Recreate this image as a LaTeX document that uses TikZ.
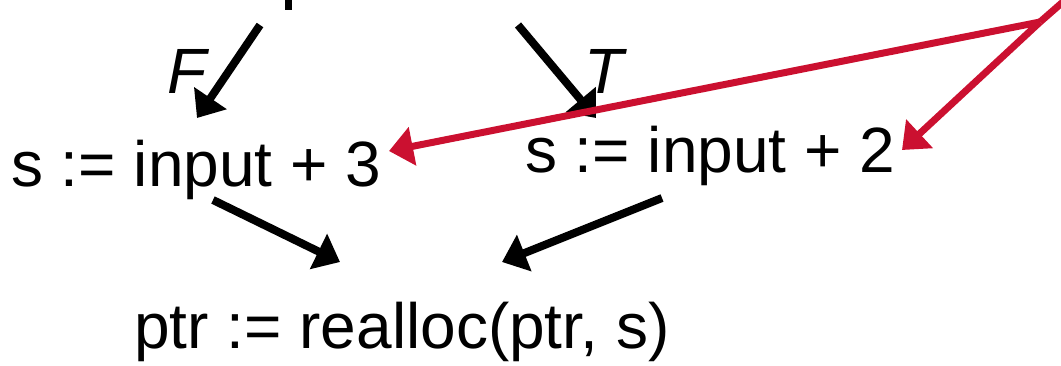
\documentclass[tikz,border=0pt]{standalone}
\usepackage{fontspec}
\setmainfont{Liberation Sans}
\usetikzlibrary{arrows.meta}
\definecolor{hired}{RGB}{203,16,48}
\begin{document}
\begin{tikzpicture}[x=1pt,y=-1pt,
  txt/.style={inner sep=0pt,anchor=base west,font=\fontsize{64}{70}\selectfont},
  lbl/.style={inner sep=0pt,anchor=base,font=\fontsize{64}{70}\selectfont\itshape},
  blk/.style={line width=8pt,-{Triangle[length=24pt,width=38pt]}},
  redarr/.style={hired,line width=7pt,-{Triangle[length=24pt,width=38pt]}}]
\useasboundingbox (0,0) rectangle (1061,365);
% remnant of the cut-off node above
\fill (285,-2) rectangle (292,10);
\node[txt] (n3) at (11,186) {s := input + 3};
\node[txt] (n2) at (525,172) {s := input + 2};
\node[txt] (pr) at (134,348) {ptr := realloc(ptr, s)};
\node[lbl] (F) at (187,93) {F};
\node[lbl] (T) at (604,93) {T};
\coordinate (fS) at (260,25);
\coordinate (fE) at (197,118);
\coordinate (tS) at (518,25);
\coordinate (tE) at (596,118);
\coordinate (aS) at (213,200);
\coordinate (aE) at (340,262);
\coordinate (bS) at (662,198);
\coordinate (bE) at (502,262);
\coordinate (corner) at (1072,-6);
\coordinate (j) at (1040,22);
\coordinate (r3) at (389,151);
\coordinate (r2) at (902,150);
\draw[blk] (fS) -- (fE);
\draw[blk] (tS) -- (tE);
\draw[blk] (aS) -- (aE);
\draw[blk] (bS) -- (bE);
\draw[hired,line width=7pt] (corner) -- (j);
\draw[redarr] (j) -- (r3);
\draw[redarr] (j) -- (r2);
\end{tikzpicture}
\end{document}
